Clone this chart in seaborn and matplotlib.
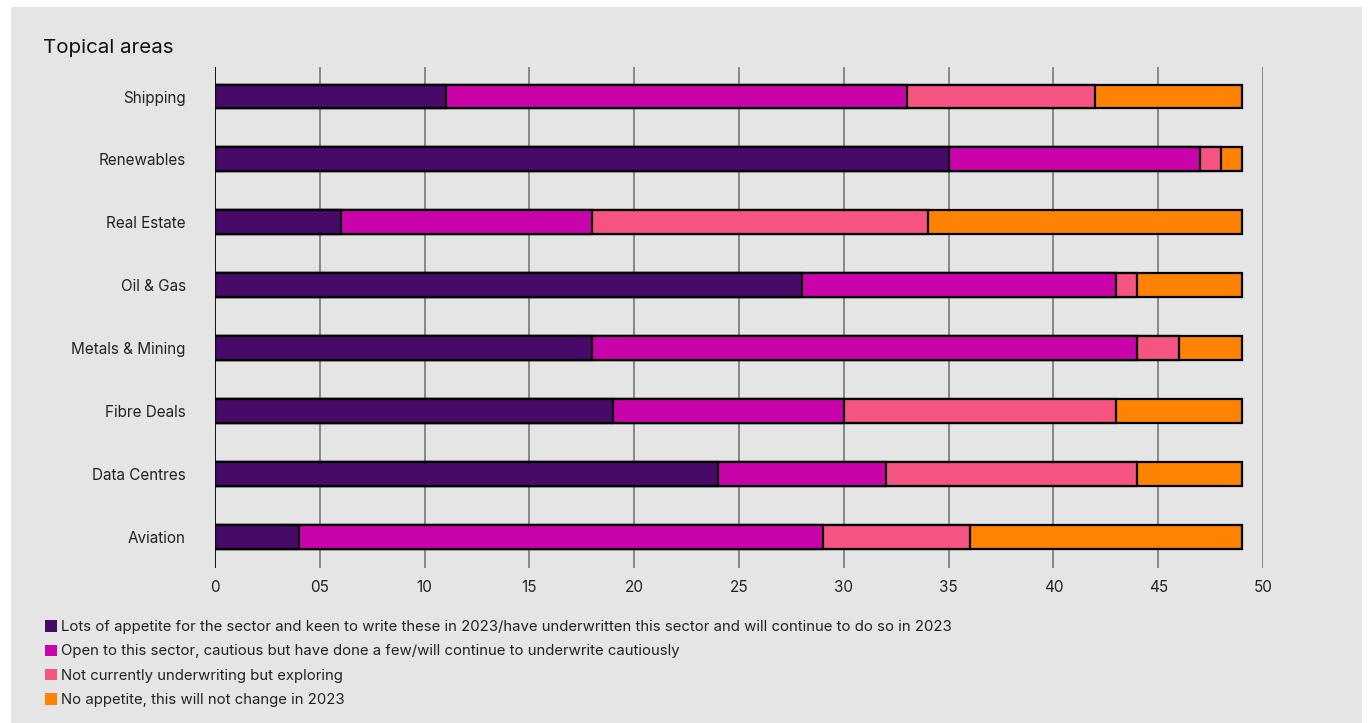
import numpy as np
import pandas as pd
import matplotlib.pyplot as plt
import matplotlib.patches as mpatches
import seaborn as sns

# Values
categories = ["Shipping", "Renewables", "Real Estate", "Oil & Gas",
              "Metals & Mining", "Fibre Deals", "Data Centres", "Aviation"]
lots_of_appetite = [11, 35, 6, 28, 18, 19, 24, 4]
open_cautious = [22, 12, 12, 15, 26, 11, 8, 25]
exploring = [9, 1, 16, 1, 2, 13, 12, 7]
no_appetite = [7, 1, 15, 5, 3, 6, 5, 13]

series_labels = [
    "Lots of appetite for the sector and keen to write these in 2023/have underwritten this sector and will continue to do so in 2023",
    "Open to this sector, cautious but have done a few/will continue to underwrite cautiously",
    "Not currently underwriting but exploring",
    "No appetite, this will not change in 2023",
]
colors = ["#470a68", "#c903aa", "#f55380", "#ff8300"]
tick_vals = [0, 5, 10, 15, 20, 25, 30, 35, 40, 45, 50]
tick_labels = ["0", "05", "10", "15", "20", "25", "30", "35", "40", "45", "50"]

BG = "#e5e5e5"

sns.set_theme(style="white")
plt.rcParams["font.family"] = ["Inter", "DejaVu Sans"]

fig = plt.figure(figsize=(13.68, 7.23), dpi=100, facecolor="white")
# grey panel behind everything
fig.patches.append(mpatches.Rectangle((11 / 1368, 0), (1362 - 11) / 1368, 1 - 7 / 723,
                                      transform=fig.transFigure, facecolor=BG,
                                      edgecolor="none", zorder=-10))
ax = fig.add_axes([215 / 1368, 1 - 568 / 723, (1263 - 215) / 1368, (568 - 67) / 723])
ax.set_facecolor(BG)

df = pd.DataFrame({
    "category": categories,
    "s1": lots_of_appetite,
    "s2": open_cautious,
    "s3": exploring,
    "s4": no_appetite,
})
cum = df[["s1", "s2", "s3", "s4"]].cumsum(axis=1)

# draw from the longest cumulative bar to the shortest so they look stacked
for col, color in zip(["s4", "s3", "s2", "s1"], colors[::-1]):
    sns.barplot(x=cum[col], y=df["category"], orient="h", color=color,
                edgecolor="black", linewidth=1.6, width=0.38, saturation=1,
                ax=ax, zorder=3)

ax.set_xlim(0, 50)
ax.set_ylim(7.5, -0.47)
ax.set_xticks(tick_vals)
ax.set_xticklabels(tick_labels)
for x in tick_vals:
    ax.axvline(x, color="black" if x == 0 else "#777777", lw=1.3 if x == 0 else 1.2, zorder=1)
for s in ax.spines.values():
    s.set_visible(False)
ax.tick_params(axis="x", length=0, pad=9, labelsize=11, colors="#222222")
ax.tick_params(axis="y", length=0, pad=21, labelsize=11, colors="#222222")
ax.set_xlabel("")
ax.set_ylabel("")

fig.text(43 / 1368, 1 - 48 / 723, "Topical areas", fontsize=14.8, color="#111111", va="center")

handles = [mpatches.Patch(facecolor=c, edgecolor="none") for c in colors]
fig.legend(handles, series_labels, loc="upper left", bbox_to_anchor=(45 / 1368, 1 - 620 / 723),
           frameon=False, fontsize=10.75, handlelength=0.8, handleheight=0.8,
           handletextpad=0.3, labelspacing=0.7, borderaxespad=0, borderpad=0,
           labelcolor="#222222")

fig.savefig("out.png", dpi=100, facecolor="white")
